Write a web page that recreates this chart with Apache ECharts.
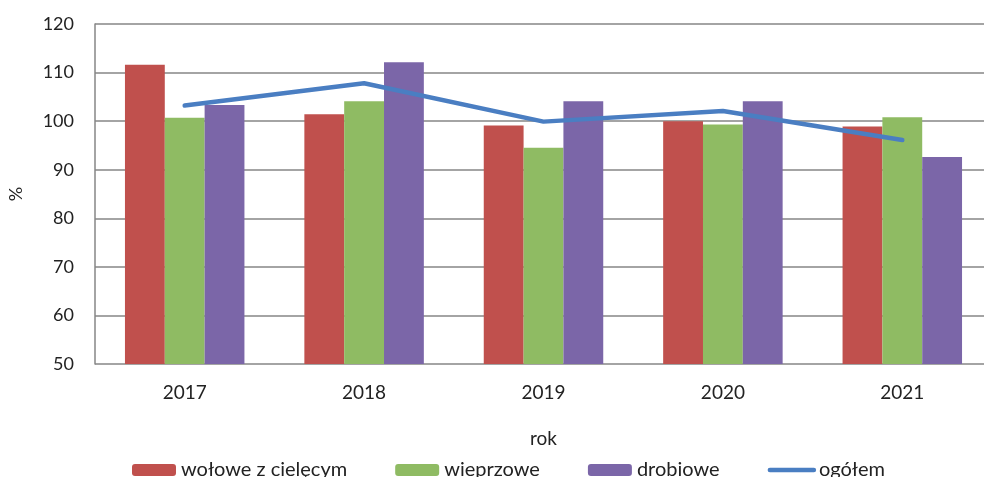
<!DOCTYPE html>
<html>
<head>
<meta charset="utf-8">
<script src="https://cdn.jsdelivr.net/npm/echarts@6/dist/echarts.min.js"></script>
<style>
    html, body {margin: 0; padding: 0; background: #fff;}
    #chart {width: 984px; height: 477px;}
</style>
</head>
<body>
<div id="chart"></div>
<script>
// dane
var years = ['2017', '2018', '2019', '2020', '2021'];
var wolowe = [111.6, 101.4, 99.1, 100.0, 98.9];
var wieprzowe = [100.7, 104.1, 94.5, 99.3, 100.8];
var drobiowe = [103.3, 112.1, 104.1, 104.1, 92.6];
var ogolem = [103.2, 107.8, 99.9, 102.1, 96.1];

var font = 'Lato, "Open Sans", sans-serif';
var myChart = echarts.init(document.getElementById('chart'));

var option = {
    animation: false,
    textStyle: {fontFamily: font},
    // obszar wykresu wychodzi poza prawa krawedz obrazka
    grid: {left: 95, width: 897, top: 24, bottom: 113, outerBoundsMode: 'none', containLabel: false},
    legend: {
        top: 460,
        left: 132,
        padding: 0,
        itemWidth: 44,
        itemHeight: 12,
        itemGap: 48,
        textStyle: {fontSize: 20, color: '#222', fontFamily: font},
        data: [
            'wołowe z cielęcym',
            'wieprzowe',
            'drobiowe',
            {name: 'ogółem', itemStyle: {opacity: 0}, lineStyle: {width: 4.5, cap: 'round'}}
        ]
    },
    xAxis: {
        type: 'category',
        data: years,
        name: 'rok',
        nameLocation: 'middle',
        nameGap: 65,
        nameTextStyle: {fontSize: 19, color: '#222'},
        axisLine: {show: false},
        axisTick: {show: false},
        axisLabel: {fontSize: 19, color: '#222', margin: 19}
    },
    yAxis: {
        type: 'value',
        min: 50,
        max: 120,
        interval: 10,
        name: '%',
        nameLocation: 'middle',
        nameRotate: 90,
        nameGap: 70,
        nameTextStyle: {fontSize: 18, color: '#222'},
        axisLine: {show: true, lineStyle: {color: '#868686', width: 1.5}},
        axisTick: {show: false},
        axisLabel: {fontSize: 18, color: '#222', margin: 21},
        splitLine: {lineStyle: {color: '#868686', width: 1.5}}
    },
    series: [{
        name: 'wołowe z cielęcym',
        type: 'bar',
        data: wolowe,
        barGap: '0%',
        barCategoryGap: '33.4%',
        itemStyle: {color: '#C0504D'}
    }, {
        name: 'wieprzowe',
        type: 'bar',
        data: wieprzowe,
        itemStyle: {color: '#8FBB63'}
    }, {
        name: 'drobiowe',
        type: 'bar',
        data: drobiowe,
        itemStyle: {color: '#7B66A8'}
    }, {
        name: 'ogółem',
        type: 'line',
        data: ogolem,
        symbol: 'none',
        lineStyle: {color: '#4A7EC2', width: 4.5, cap: 'round'},
        itemStyle: {color: '#4A7EC2'}
    }]
};
myChart.setOption(option);
</script>
</body>
</html>
